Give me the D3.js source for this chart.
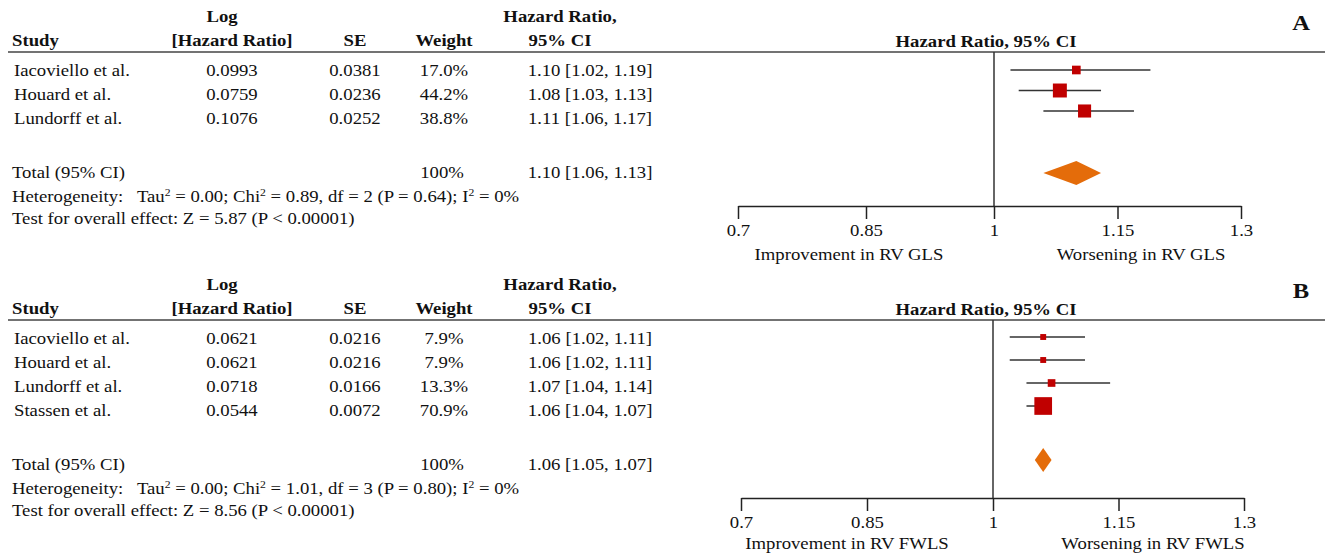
<!DOCTYPE html>
<html>
<head>
<meta charset="utf-8">
<script src="https://cdn.jsdelivr.net/npm/d3@7"></script>
<style>
  body { margin: 0; background: #fff; }
  svg { display: block; font-family: "Liberation Serif", "Times New Roman", serif; }
  text { fill: #111; }
</style>
</head>
<body>
<svg id="chart" width="1325" height="554"></svg>
<script>
// ---- Panel A: RV global longitudinal strain ----
const studiesA = ["Iacoviello et al.", "Houard et al.", "Lundorff et al."];
const logHrA   = ["0.0993", "0.0759", "0.1076"];
const seA      = ["0.0381", "0.0236", "0.0252"];
const weightsA = [17.0, 44.2, 38.8];
const hrA      = [1.10, 1.08, 1.11];
const lowerA   = [1.02, 1.03, 1.06];
const upperA   = [1.19, 1.13, 1.17];
const totalA   = [1.10, 1.06, 1.13];            // pooled estimate, lower, upper
const hetA     = ["0.00", "0.89", "2", "0.64", "0"];   // Tau², Chi², df, P, I²
const testA    = ["5.87", "P < 0.00001"];
const sidesA   = ["Improvement in RV GLS", "Worsening in RV GLS"];

// ---- Panel B: RV free wall longitudinal strain ----
const studiesB = ["Iacoviello et al.", "Houard et al.", "Lundorff et al.", "Stassen et al."];
const logHrB   = ["0.0621", "0.0621", "0.0718", "0.0544"];
const seB      = ["0.0216", "0.0216", "0.0166", "0.0072"];
const weightsB = [7.9, 7.9, 13.3, 70.9];
const hrB      = [1.06, 1.06, 1.07, 1.06];
const lowerB   = [1.02, 1.02, 1.04, 1.04];
const upperB   = [1.11, 1.11, 1.14, 1.07];
const totalB   = [1.06, 1.05, 1.07];
const hetB     = ["0.00", "1.01", "3", "0.80", "0"];
const testB    = ["8.56", "P < 0.00001"];
const sidesB   = ["Improvement in RV FWLS", "Worsening in RV FWLS"];

const axisTicks = [0.7, 0.85, 1, 1.15, 1.3];

const panels = [
  {
    tag: "A", studies: studiesA, logHr: logHrA, se: seA, weights: weightsA,
    hr: hrA, lower: lowerA, upper: upperA, total: totalA, het: hetA, test: testA, sides: sidesA,
    layout: { top: 0, rowBase: 76, rowStep: 24, totalGap: 54,
              forest: [70, 111], diamondY: 173, axisY: 206, sideGap: 54,
              xRange: [738, 994, 1241], sideX: [849, 1141] }
  },
  {
    tag: "B", studies: studiesB, logHr: logHrB, se: seB, weights: weightsB,
    hr: hrB, lower: lowerB, upper: upperB, total: totalB, het: hetB, test: testB, sides: sidesB,
    layout: { top: 268, rowBase: 344, rowStep: 24, totalGap: 54,
              forest: [337, 406], diamondY: 460, axisY: 498, sideGap: 51,
              xRange: [741, 993, 1244], sideX: [847, 1153] }
  }
];

const svg = d3.select("#chart");
const fmt2 = d3.format(".2f");
const fmtW = d => d3.format(".1f")(d) + "%";
const ciText = (h, l, u) => `${fmt2(h)} [${fmt2(l)}, ${fmt2(u)}]`;

// the typeface is set slightly wide
const SX = 1.17;
function txt(parent, x, y, str, anchor) {
  const el = parent.append("text")
    .attr("transform", `translate(${x},${y}) scale(${SX},1)`)
    .attr("text-anchor", anchor || "start");
  if (str != null) el.text(str);
  return el;
}

// column centres of the study table
const col = { study: 12, logHr: 232, se: 355, weight: 444, hr: 590, hrHead: 560 };
const boxSize = d3.scaleSqrt().domain([0, 100]).range([0, 21]);

function drawPanel(p) {
  const L = p.layout;
  const g = svg.append("g");
  const t = L.top;

  // ---- table header ----
  const head = g.append("g").attr("font-weight", "bold").attr("font-size", 16);
  txt(head, col.study, t + 46, "Study");
  txt(head, 222, t + 22, "Log", "middle");
  txt(head, col.logHr, t + 46, "[Hazard Ratio]", "middle");
  txt(head, col.se, t + 46, "SE", "middle");
  txt(head, col.weight, t + 46, "Weight", "middle");
  txt(head, col.hrHead, t + 22, "Hazard Ratio,", "middle");
  txt(head, col.hrHead, t + 46, "95% CI", "middle");
  txt(head, 986, t + 47, "Hazard Ratio, 95% CI", "middle");
  txt(head, 1301, t + 30, p.tag, "middle").attr("font-size", 21);

  g.append("line").attr("x1", 8).attr("x2", 1325).attr("y1", t + 52).attr("y2", t + 52)
    .attr("stroke", "#444").attr("stroke-width", 1.5);

  // ---- study rows ----
  const rowY = i => L.rowBase + i * L.rowStep;
  const rows = g.append("g").attr("font-size", 16);
  p.studies.forEach((s, i) => {
    const y = rowY(i);
    txt(rows, col.study + 2, y, s);
    txt(rows, col.logHr, y, p.logHr[i], "middle");
    txt(rows, col.se, y, p.se[i], "middle");
    txt(rows, col.weight, y, fmtW(p.weights[i]), "middle");
    txt(rows, col.hr, y, ciText(p.hr[i], p.lower[i], p.upper[i]), "middle");
  });

  const totY = rowY(p.studies.length - 1) + L.totalGap;
  txt(rows, col.study, totY, "Total (95% CI)");
  txt(rows, col.weight - 2, totY, "100%", "middle");
  txt(rows, col.hr, totY, ciText(p.total[0], p.total[1], p.total[2]), "middle");

  // heterogeneity line with superscripts
  const het = txt(rows, col.study, totY + 24).style("white-space", "pre");
  const sup = (s) => het.append("tspan").attr("font-size", 10).attr("dy", -6).text(s);
  const base = (s) => het.append("tspan").attr("dy", 6).text(s);
  het.append("tspan").text("Heterogeneity:   Tau");
  sup("2");
  base(` = ${p.het[0]}; Chi`);
  sup("2");
  base(` = ${p.het[1]}, df = ${p.het[2]} (P = ${p.het[3]}); I`);
  sup("2");
  base(` = ${p.het[4]}%`);

  txt(rows, col.study, totY + 46, `Test for overall effect: Z = ${p.test[0]} (${p.test[1]})`);

  // ---- forest plot ----
  const x = d3.scaleLinear().domain([0.7, 1, 1.3]).range(L.xRange);
  const yF = d3.scaleLinear().domain([0, p.studies.length - 1]).range(L.forest);

  // line of no effect
  g.append("line").attr("x1", x(1)).attr("x2", x(1)).attr("y1", t + 52).attr("y2", L.axisY)
    .attr("stroke", "#333").attr("stroke-width", 1.5);

  const idx = d3.range(p.studies.length);
  g.append("g").selectAll("line").data(idx).join("line")
    .attr("x1", i => x(p.lower[i])).attr("x2", i => x(p.upper[i]))
    .attr("y1", i => yF(i)).attr("y2", i => yF(i))
    .attr("stroke", "#333").attr("stroke-width", 1.5);

  g.append("g").selectAll("rect").data(idx).join("rect")
    .attr("x", i => x(p.hr[i]) - boxSize(p.weights[i]) / 2)
    .attr("y", i => yF(i) - boxSize(p.weights[i]) / 2)
    .attr("width", i => boxSize(p.weights[i]))
    .attr("height", i => boxSize(p.weights[i]))
    .attr("fill", "#c00000");

  // pooled diamond
  const dh = 12;
  const diamond = [
    [x(p.total[1]), L.diamondY], [x(p.total[0]), L.diamondY - dh],
    [x(p.total[2]), L.diamondY], [x(p.total[0]), L.diamondY + dh]
  ];
  g.append("path").attr("d", d3.line()(diamond) + "Z").attr("fill", "#e46c0a");

  // x axis
  const ax = g.append("g").attr("transform", `translate(0,${L.axisY})`)
    .call(d3.axisBottom(x).tickValues(axisTicks).tickSizeInner(13).tickSizeOuter(0)
      .tickPadding(6).tickFormat(d => String(d)));
  ax.select(".domain").attr("stroke", "#222").attr("stroke-width", 1.5);
  ax.selectAll(".tick line").attr("stroke", "#222").attr("stroke-width", 1.5);
  ax.selectAll(".tick text").attr("font-size", 16)
    .attr("font-family", "'Liberation Serif','Times New Roman',serif").attr("fill", "#111")
    .attr("transform", `scale(${SX},1)`);

  const sideY = L.axisY + L.sideGap;
  const sides = g.append("g").attr("font-size", 16);
  txt(sides, L.sideX[0], sideY, p.sides[0], "middle");
  txt(sides, L.sideX[1], sideY, p.sides[1], "middle");
}

panels.forEach(drawPanel);
</script>
</body>
</html>
